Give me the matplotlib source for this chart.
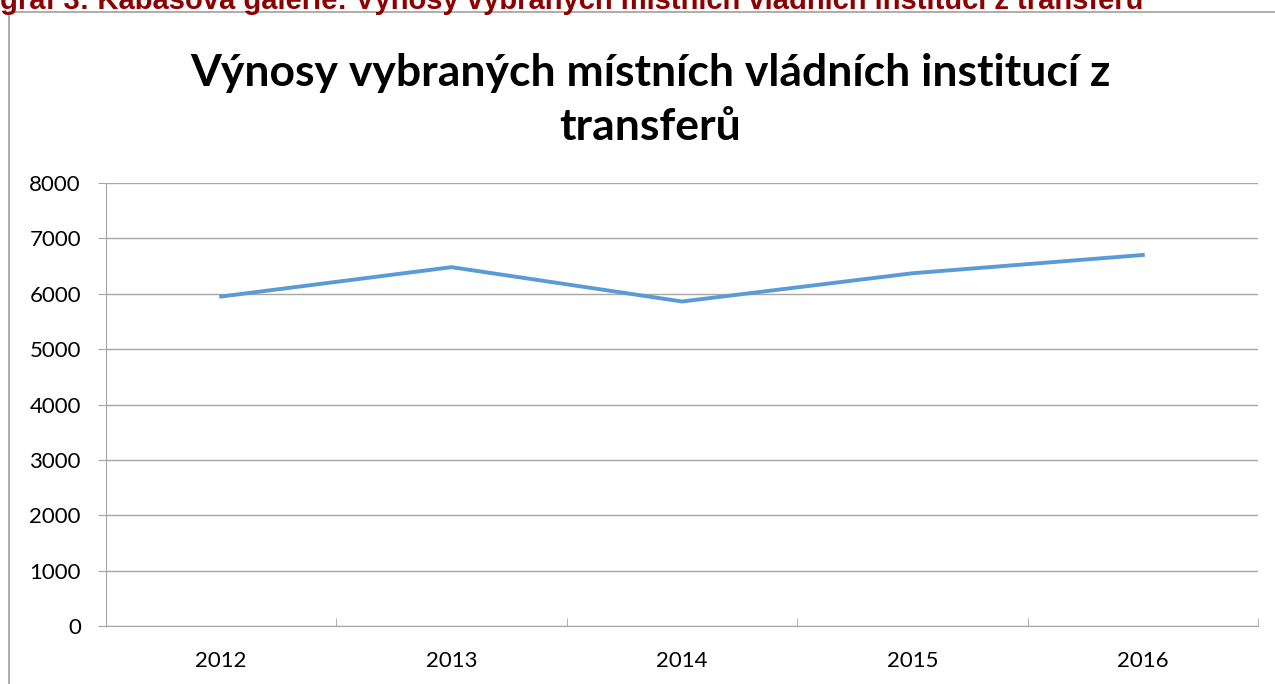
import matplotlib
matplotlib.use("Agg")
import matplotlib.pyplot as plt
from matplotlib.lines import Line2D

# transfer revenues of selected local government institutions
years = ["2012", "2013", "2014", "2015", "2016"]
revenues = [5950, 6480, 5860, 6370, 6700]
y_ticks = [0, 1000, 2000, 3000, 4000, 5000, 6000, 7000, 8000]

W, H = 1275, 684
fig = plt.figure(figsize=(W / 100, H / 100), dpi=100)

# document heading, clipped at the top edge of the page
fig.text(0.0, 1 - 9 / H, "graf 3: Kabasova galerie: Výnosy vybraných místních vládních institucí z transferů",
         family="Liberation Sans", weight="bold", fontsize=21, color="#8b0000",
         ha="left", va="baseline")

# chart frame (left and top edge)
frame_col = "#a0a0a0"
fig.add_artist(Line2D([9 / W, 9 / W], [0, 1 - 12 / H], transform=fig.transFigure,
                      color=frame_col, lw=1.2))
fig.add_artist(Line2D([9 / W, 1], [1 - 12 / H, 1 - 12 / H], transform=fig.transFigure,
                      color=frame_col, lw=1.2))

ax = fig.add_axes([106 / W, 1 - 626 / H, (1258 - 106) / W, (626 - 183) / H])
x = list(range(len(years)))
ax.plot(x, revenues, color="#5b9bd5", lw=2.8, solid_joinstyle="round", zorder=3)

ax.set_xlim(-0.5, len(years) - 0.5)
ax.set_ylim(0, 8000)
ax.set_yticks(y_ticks)
ax.set_yticklabels([str(v) for v in y_ticks])
ax.set_xticks(x)
ax.set_xticklabels(years)
ax.set_xticks([i - 0.5 for i in range(len(years) + 1)], minor=True)

grid_col = "#a6a6a6"
ax.grid(axis="y", color=grid_col, lw=1.0)
for s in ["top", "right"]:
    ax.spines[s].set_visible(False)
ax.spines["left"].set_color(grid_col)
ax.spines["bottom"].set_color(grid_col)
ax.tick_params(axis="y", length=6, color=grid_col, labelsize=16, pad=12)
ax.tick_params(axis="x", which="major", length=0, labelsize=16, pad=18)
ax.tick_params(axis="x", which="minor", length=6, color=grid_col, direction="in")
for lab in ax.get_xticklabels() + ax.get_yticklabels():
    lab.set_family("Lato")

fig.text(650 / W, 1 - 100 / H, "Výnosy vybraných místních vládních institucí z\ntransferů",
         family="Lato", weight="bold", fontsize=32, ha="center", va="center",
         linespacing=1.45)

fig.savefig("out.png", dpi=100)
